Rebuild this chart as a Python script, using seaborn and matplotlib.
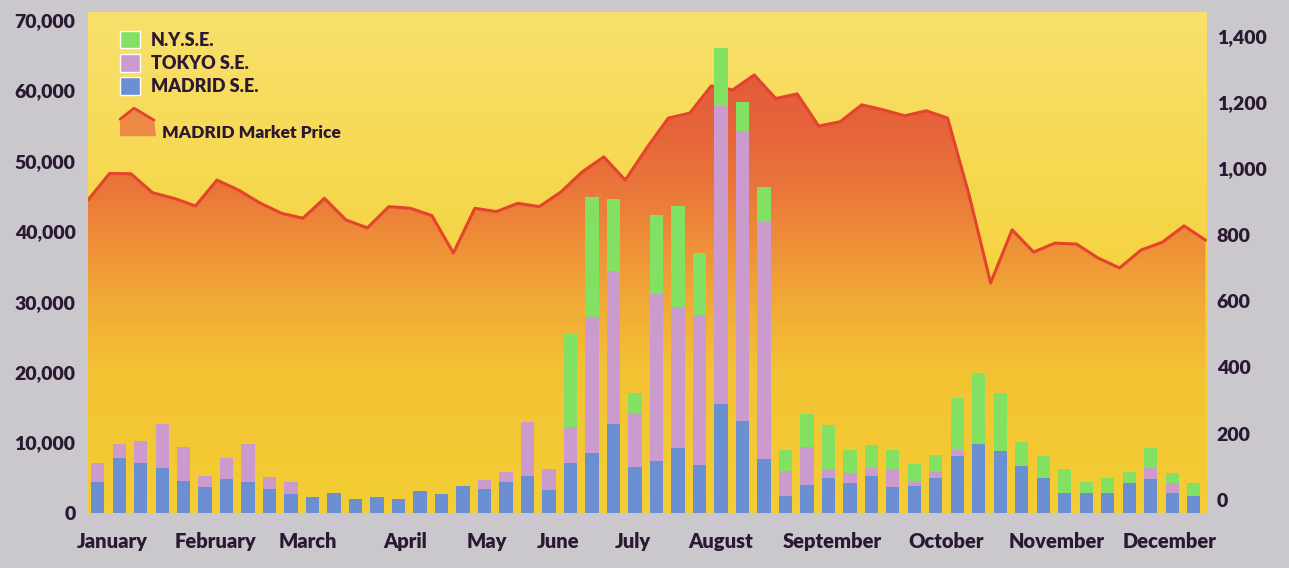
import numpy as np
import pandas as pd
import seaborn as sns
import matplotlib.pyplot as plt
from matplotlib.colors import LinearSegmentedColormap
from matplotlib.patches import Patch, Polygon
from matplotlib.ticker import FuncFormatter

# weekly turnover (left axis), stacked: MADRID at the bottom, then TOKYO, then N.Y.S.E.
madrid_se = [4450, 7770, 7060, 6430, 4590, 3740, 4830, 4360, 3410, 2700,
             2320, 2800, 1990, 2320, 1990, 3170, 2700, 3880, 3410, 4450,
             5260, 3270, 7150, 8570, 12640, 6490, 7390, 9190, 6820, 15480,
             13110, 7670, 2460, 4020, 5010, 4300, 5260, 3740, 3840, 4930,
             8100, 9800, 8810, 6720, 4930, 2800, 2800, 2880, 4220, 4830,
             2800, 2410]
tokyo_se = [2610, 2030, 3210, 6160, 4790, 1560, 2940, 5400, 1660, 1750,
            0, 0, 0, 0, 0, 0, 0, 0, 1280, 1340,
            7630, 2940, 5110, 19230, 21730, 7670, 23680, 20030, 21310, 42330,
            41150, 33620, 3550, 5400, 1240, 1340, 1180, 2470, 710, 940,
            850, 0, 0, 0, 0, 0, 0, 0, 0, 1520,
            1420, 0]
nyse = [0, 0, 0, 0, 0, 0, 0, 0, 0, 0,
        0, 0, 0, 0, 0, 0, 0, 0, 0, 0,
        0, 0, 13170, 17130, 10230, 2840, 11260, 14390, 8850, 8200,
        4160, 4970, 2940, 4640, 6250, 3310, 3220, 2740, 2410, 2370,
        7340, 10040, 8200, 3320, 3210, 3450, 1650, 2130, 1650, 2840,
        1420, 1800]

# MADRID market price index (right axis), one value per week boundary
market_price = [905, 985, 984, 927, 910, 887, 965, 935, 896, 865,
                850, 910, 845, 821, 885, 880, 858, 745, 880, 870,
                895, 885, 929, 990, 1035, 965, 1062, 1152, 1167, 1249,
                1237, 1282, 1211, 1225, 1128, 1141, 1192, 1177, 1159, 1174,
                1152, 920, 655, 815, 748, 775, 772, 730, 700, 754,
                778, 827, 784]

months = ["January", "February", "March", "April", "May", "June", "July",
          "August", "September", "October", "November", "December"]
left_ticks = [0, 10000, 20000, 30000, 40000, 50000, 60000, 70000]
right_ticks = [0, 200, 400, 600, 800, 1000, 1200, 1400]

GREEN = "#82e062"
PINK = "#cc9bcd"
BLUE = "#6b8fd3"
INK = "#2b1832"

sns.set_theme(style="white")
plt.rcParams['font.family'] = ['Lato', 'DejaVu Sans']
plt.rcParams['font.weight'] = 'heavy'

df = pd.DataFrame({"week": np.arange(len(madrid_se)),
                   "madrid": madrid_se, "tokyo": tokyo_se, "nyse": nyse})
df["tokyo_top"] = df["madrid"] + df["tokyo"]
df["nyse_top"] = df["tokyo_top"] + df["nyse"]

fig = plt.figure(figsize=(12.89, 5.68), dpi=100, facecolor="#cac7cd")
ax = fig.add_axes([0.0683, 0.0968, 0.8681, 0.8821])
ax2 = ax.twinx()
ax.set_zorder(ax2.get_zorder() + 1)
ax.patch.set_visible(False)

xlim = (-0.45, 51.62)
ylim1 = (0, 71140)
ylim2 = (-39, 1472)

# yellow backdrop
grad = np.linspace(0, 1, 256).reshape(-1, 1)
bg_cmap = LinearSegmentedColormap.from_list("bg", ["#f3cd33", "#f5d443", "#f8e06c"])
ax2.imshow(grad, cmap=bg_cmap, origin="lower", extent=(*xlim, *ylim2),
           aspect="auto", zorder=0)

# price area with red-to-yellow shading
px = np.arange(len(market_price)) - 0.45
fill = ax2.fill_between(px, market_price, ylim2[0], color="none", lw=0)
area_cmap = LinearSegmentedColormap.from_list(
    "area", [(0.0, "#f3cd33"), (0.3, "#f3c234"), (0.45, "#f1ab36"),
             (0.6, "#ee8e38"), (0.72, "#ea763a"), (0.85, "#e6653a"),
             (1.0, "#e35a3a")])
im = ax2.imshow(grad, cmap=area_cmap, origin="lower",
                extent=(xlim[0], xlim[1], 0, 1300), aspect="auto", zorder=1)
im.set_clip_path(fill.get_paths()[0], transform=ax2.transData)
sns.lineplot(x=px, y=market_price, ax=ax2, color="#e3442b", lw=2.2, zorder=2)

# stacked bars (drawn as overlapping cumulative totals)
for col, colour in [("nyse_top", GREEN), ("tokyo_top", PINK), ("madrid", BLUE)]:
    sns.barplot(data=df, x="week", y=col, color=colour, saturation=1,
                width=0.62, errorbar=None, ax=ax, zorder=3,
                edgecolor="none", linewidth=0)

ax.set_xlim(xlim)
ax2.set_xlim(xlim)
ax.set_ylim(ylim1)
ax2.set_ylim(ylim2)
ax.set_xlabel("")
ax.set_ylabel("")
ax2.set_ylabel("")

month_pos = [0.7, 5.5, 9.8, 14.3, 18.1, 21.4, 24.9, 29.0, 34.2, 39.5, 44.6, 49.9]
ax.set_xticks(month_pos)
ax.set_xticklabels(months)
ax.set_yticks(left_ticks)
ax.yaxis.set_major_formatter(FuncFormatter(lambda v, p: f"{int(v):,}"))
ax2.set_yticks(right_ticks)
ax2.yaxis.set_major_formatter(FuncFormatter(lambda v, p: f"{int(v):,}"))

ax.tick_params(axis="y", length=0, labelsize=14, labelcolor=INK, pad=9)
ax.tick_params(axis="x", length=0, labelsize=14.5, labelcolor=INK, pad=14)
ax2.tick_params(axis="y", length=0, labelsize=14, labelcolor=INK, pad=7)
for a in (ax, ax2):
    for s in a.spines.values():
        s.set_visible(False)
    a.grid(False)

handles = [Patch(facecolor=GREEN, label="N.Y.S.E."),
           Patch(facecolor=PINK, label="TOKYO S.E."),
           Patch(facecolor=BLUE, label="MADRID S.E.")]
ax.legend(handles=handles, loc="upper left", bbox_to_anchor=(0.0286, 0.962),
          frameon=False, fontsize=13, labelcolor=INK, handlelength=1.1,
          handleheight=1.1, handletextpad=0.6, labelspacing=0.3,
          borderpad=0, borderaxespad=0)

icon = Polygon([(0.0286, 0.786), (0.0411, 0.808), (0.059, 0.784),
                (0.0608, 0.752), (0.0286, 0.752)], closed=True,
               transform=ax.transAxes, facecolor="#ec8a45", edgecolor="none",
               zorder=5)
ax.add_patch(icon)
ax.plot([0.0286, 0.0411, 0.059], [0.786, 0.808, 0.784], transform=ax.transAxes,
        color="#e3442b", lw=2, zorder=6)
ax.text(0.066, 0.758, "MADRID Market Price", transform=ax.transAxes,
        fontsize=12.5, color=INK, va="center", ha="left")

fig.savefig("out.png", dpi=100, facecolor=fig.get_facecolor())
